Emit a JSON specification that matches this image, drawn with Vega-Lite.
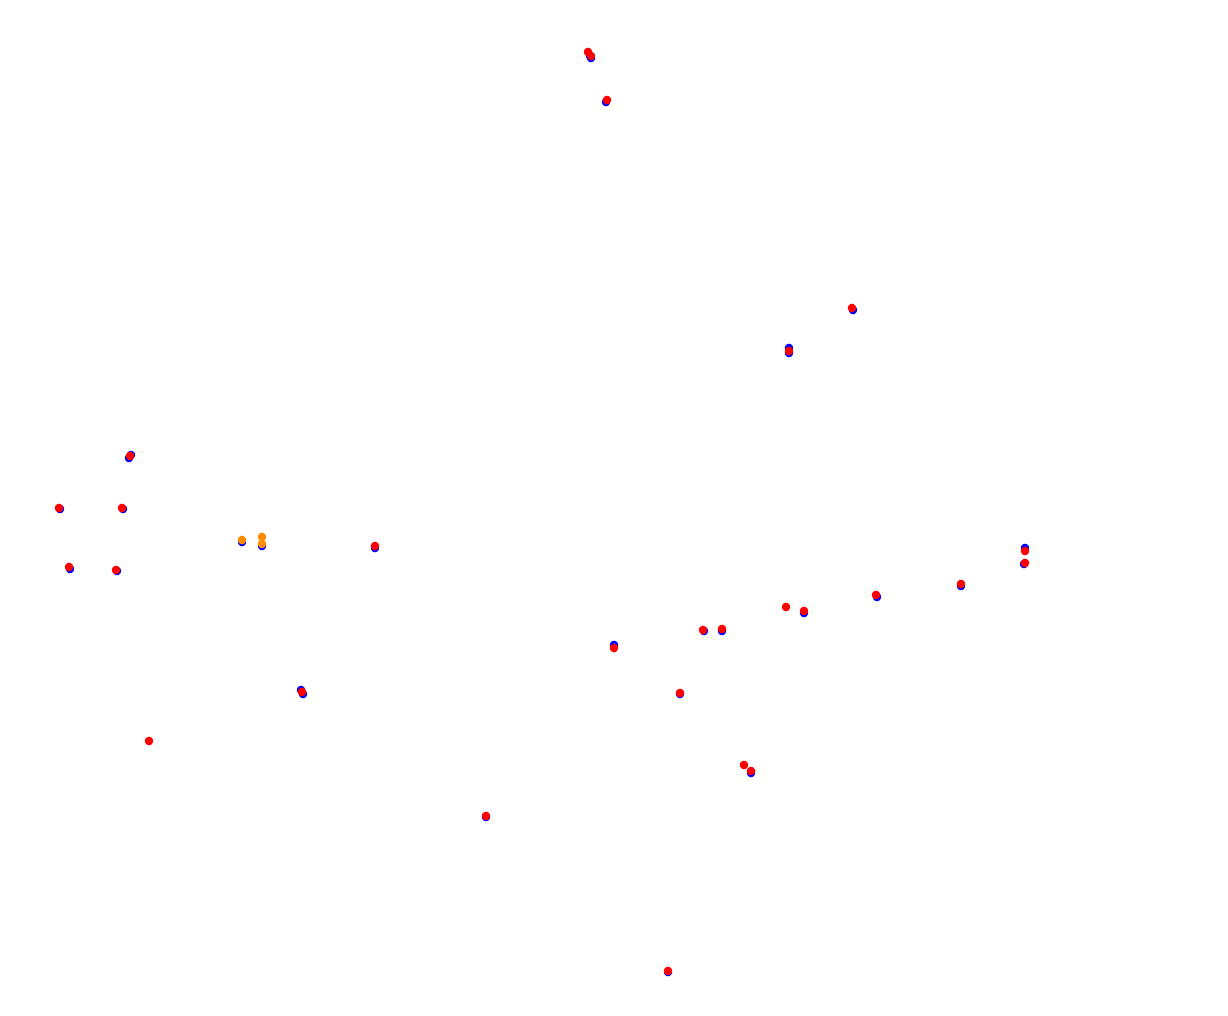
{
  "$schema": "https://vega.github.io/schema/vega-lite/v6.json",
  "autosize": {"type": "fit", "contains": "padding"},
  "width": 1228,
  "height": 1016,
  "padding": 0,
  "background": "white",
  "config": {"view": {"stroke": null}},
  "data": {"values": [
    {"s": "blue", "x": 590, "y": 56},
    {"s": "blue", "x": 591, "y": 58},
    {"s": "blue", "x": 606, "y": 102},
    {"s": "blue", "x": 853, "y": 310},
    {"s": "blue", "x": 789, "y": 348},
    {"s": "blue", "x": 789, "y": 353},
    {"s": "blue", "x": 131, "y": 455},
    {"s": "blue", "x": 129, "y": 458},
    {"s": "blue", "x": 60, "y": 509},
    {"s": "blue", "x": 123, "y": 509},
    {"s": "blue", "x": 70, "y": 569},
    {"s": "blue", "x": 117, "y": 571},
    {"s": "blue", "x": 242, "y": 542},
    {"s": "blue", "x": 262, "y": 546},
    {"s": "blue", "x": 375, "y": 548},
    {"s": "blue", "x": 301, "y": 690},
    {"s": "blue", "x": 303, "y": 694},
    {"s": "blue", "x": 486, "y": 817},
    {"s": "blue", "x": 668, "y": 972},
    {"s": "blue", "x": 614, "y": 645},
    {"s": "blue", "x": 680, "y": 694},
    {"s": "blue", "x": 704, "y": 631},
    {"s": "blue", "x": 722, "y": 631},
    {"s": "blue", "x": 804, "y": 613},
    {"s": "blue", "x": 877, "y": 597},
    {"s": "blue", "x": 961, "y": 586},
    {"s": "blue", "x": 1025, "y": 548},
    {"s": "blue", "x": 1024, "y": 564},
    {"s": "blue", "x": 751, "y": 773},
    {"s": "red", "x": 588, "y": 52},
    {"s": "red", "x": 591, "y": 56},
    {"s": "red", "x": 607, "y": 100},
    {"s": "red", "x": 852, "y": 308},
    {"s": "red", "x": 789, "y": 351},
    {"s": "red", "x": 130, "y": 456},
    {"s": "red", "x": 59, "y": 508},
    {"s": "red", "x": 122, "y": 508},
    {"s": "red", "x": 69, "y": 567},
    {"s": "red", "x": 116, "y": 570},
    {"s": "red", "x": 375, "y": 546},
    {"s": "red", "x": 302, "y": 692},
    {"s": "red", "x": 149, "y": 741},
    {"s": "red", "x": 486, "y": 816},
    {"s": "red", "x": 668, "y": 971},
    {"s": "red", "x": 614, "y": 648},
    {"s": "red", "x": 680, "y": 693},
    {"s": "red", "x": 703, "y": 630},
    {"s": "red", "x": 722, "y": 629},
    {"s": "red", "x": 786, "y": 607},
    {"s": "red", "x": 804, "y": 611},
    {"s": "red", "x": 876, "y": 595},
    {"s": "red", "x": 961, "y": 584},
    {"s": "red", "x": 1025, "y": 551},
    {"s": "red", "x": 1025, "y": 563},
    {"s": "red", "x": 744, "y": 765},
    {"s": "red", "x": 751, "y": 771},
    {"s": "orange", "x": 242, "y": 540},
    {"s": "orange", "x": 262, "y": 537},
    {"s": "orange", "x": 262, "y": 544}
  ]},
  "mark": {"type": "circle", "size": 70, "opacity": 1},
  "encoding": {
    "x": {"field": "x", "type": "quantitative", "scale": {"domain": [0, 1228], "nice": false, "zero": false}, "axis": null},
    "y": {"field": "y", "type": "quantitative", "scale": {"domain": [0, 1016], "nice": false, "zero": false, "reverse": true}, "axis": null},
    "color": {"field": "s", "type": "nominal", "scale": {"domain": ["blue", "red", "orange"], "range": ["#0000ff", "#ff0000", "#ff8c00"]}, "legend": null},
    "order": {"value": 0}
  }
}
